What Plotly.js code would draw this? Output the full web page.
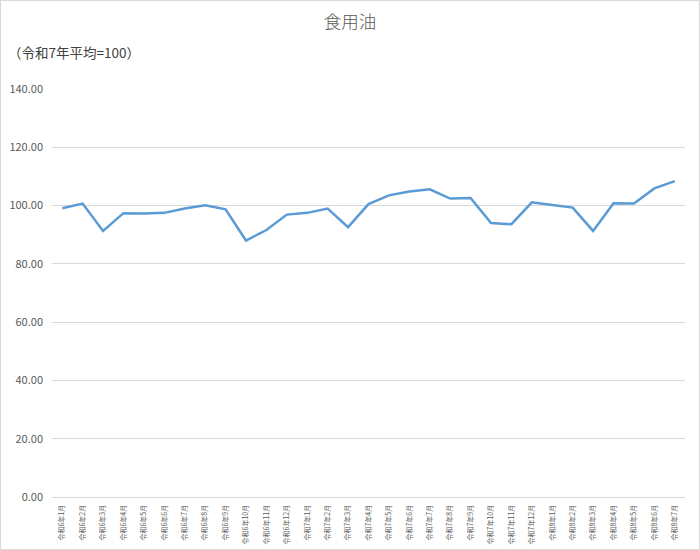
<!DOCTYPE html>
<html>
<head>
<meta charset="utf-8">
<script src="https://cdn.plot.ly/plotly-3.0.1.min.js"></script>
<style>
  body { margin: 0; background: #fff; }
  #chart { width: 698px; height: 548px; border: 1px solid #d9d9d9; }
</style>
</head>
<body>
<div id="chart"></div>
<script>
// 月ラベル（令和6年1月〜令和8年7月）
const months = [
    "令和6年1月", "令和6年2月", "令和6年3月", "令和6年4月", "令和6年5月", "令和6年6月",
    "令和6年7月", "令和6年8月", "令和6年9月", "令和6年10月", "令和6年11月", "令和6年12月",
    "令和7年1月", "令和7年2月", "令和7年3月", "令和7年4月", "令和7年5月", "令和7年6月",
    "令和7年7月", "令和7年8月", "令和7年9月", "令和7年10月", "令和7年11月", "令和7年12月",
    "令和8年1月", "令和8年2月", "令和8年3月", "令和8年4月", "令和8年5月", "令和8年6月",
    "令和8年7月"
];
// 食用油 指数
const oil = [
    99.1, 100.7, 91.3, 97.4, 97.3, 97.5,
    99.0, 100.1, 98.7, 88.0, 91.6, 96.9,
    97.5, 99.0, 92.6, 100.5, 103.5, 104.8,
    105.6, 102.4, 102.6, 94.0, 93.6, 101.1,
    100.2, 99.3, 91.3, 100.8, 100.7, 105.9,
    108.4
];
const yTicks = [0, 20, 40, 60, 80, 100, 120, 140];

const font = '"Noto Sans CJK JP", "Noto Sans", sans-serif';

const trace = {
    x: months,
    y: oil,
    type: 'scatter',
    mode: 'lines',
    line: { color: '#5b9bd5', width: 2.5 },
    hoverinfo: 'x+y'
};

Plotly.newPlot('chart', [trace], {
    width: 698,
    height: 548,
    paper_bgcolor: '#ffffff',
    plot_bgcolor: '#ffffff',
    showlegend: false,
    margin: { l: 51, r: 14, t: 88, b: 52 },
    font: { family: font, color: '#595959' },
    title: {
        text: '食用油',
        font: { family: font, size: 17.5, color: '#595959', weight: 300 },
        x: 0.5, xref: 'container', xanchor: 'center',
        y: 0.962, yref: 'container', yanchor: 'middle'
    },
    xaxis: {
        type: 'category',
        range: [-0.5, months.length - 0.5],
        tickangle: -90,
        tickfont: { family: font, size: 7, color: '#595959' },
        showgrid: false,
        showline: true,
        linecolor: '#d9d9d9',
        linewidth: 1,
        ticks: '',
        ticklabelstandoff: 4
    },
    yaxis: {
        range: [0, 140],
        tickvals: yTicks,
        ticktext: yTicks.map(v => v.toFixed(2)),
        tickfont: { family: font, size: 11, color: '#595959' },
        gridcolor: '#d9d9d9',
        gridwidth: 1,
        zeroline: false,
        showline: false,
        ticks: '',
        ticklabelstandoff: 8
    },
    annotations: [{
        text: '（令和7年平均=100）',
        xref: 'paper', yref: 'paper',
        x: -0.072, y: 1.0907,
        xanchor: 'left', yanchor: 'middle',
        showarrow: false,
        font: { family: font, size: 13.5, color: '#404040' }
    }]
}, { displayModeBar: false });
</script>
</body>
</html>
